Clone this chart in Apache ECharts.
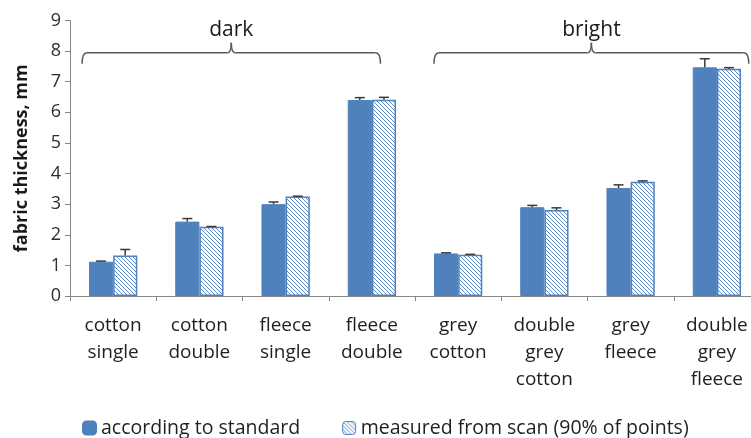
<!DOCTYPE html>
<html>
<head>
<meta charset="utf-8">
<script src="https://cdn.jsdelivr.net/npm/echarts@6/dist/echarts.min.js"></script>
<style>
html,body{margin:0;padding:0;background:#fff;}
#chart{width:751px;height:438px;}
</style>
</head>
<body>
<div id="chart"></div>
<script>
// ---- data ----
var categories = ['cotton\nsingle', 'cotton\ndouble', 'fleece\nsingle', 'fleece\ndouble',
                  'grey\ncotton', 'double\ngrey\ncotton', 'grey\nfleece', 'double\ngrey\nfleece'];
var standardValues = [1.12, 2.43, 3.00, 6.40, 1.39, 2.90, 3.53, 7.47];
var standardErrors = [0.02, 0.10, 0.07, 0.08, 0.02, 0.06, 0.10, 0.28];
var scanValues = [1.32, 2.26, 3.25, 6.41, 1.35, 2.81, 3.73, 7.42];
var scanErrors = [0.20, 0.01, 0.01, 0.08, 0.01, 0.07, 0.03, 0.04];
var seriesNames = ['according to standard', 'measured from scan (90% of points)'];
var yTicks = [0, 1, 2, 3, 4, 5, 6, 7, 8, 9];
// group brackets: label, start and end positions in category units, height in data units
var bracketLabels = ['dark', 'bright'];
var bracketStarts = [-0.36, 3.72];
var bracketEnds = [3.10, 7.37];
var bracketLevels = [7.95, 7.95];

var BLUE = '#4f81bd';
var FONT = '"Open Sans", sans-serif';

function makePattern() {
  var c = document.createElement('canvas');
  c.width = 4; c.height = 4;
  var ctx = c.getContext('2d');
  ctx.fillStyle = '#ffffff';
  ctx.fillRect(0, 0, 4, 4);
  ctx.strokeStyle = '#5f8cc6';
  ctx.lineWidth = 1;
  ctx.beginPath();
  ctx.moveTo(-1, -1); ctx.lineTo(5, 5);
  ctx.moveTo(-1, 3); ctx.lineTo(1, 5);
  ctx.moveTo(3, -1); ctx.lineTo(5, 1);
  ctx.stroke();
  return c;
}
var pattern = { image: makePattern(), repeat: 'repeat' };

var chart = echarts.init(document.getElementById('chart'), null, { renderer: 'canvas' });

var BAR_FRAC = 0.28; // each bar width as fraction of band (barCategoryGap 44%, barGap 0)

function errorRender(offsetSign, errs) {
  return function (params, api) {
    var idx = api.value(0);
    var val = api.value(1);
    var err = errs[idx];
    var band = api.size([1, 0])[0];
    var p0 = api.coord([idx, val]);
    var p1 = api.coord([idx, val + err]);
    var x = p0[0] + offsetSign * band * BAR_FRAC / 2;
    var half = 5;
    return {
      type: 'group',
      children: [
        { type: 'line', shape: { x1: x, y1: p0[1], x2: x, y2: p1[1] }, style: { stroke: '#3a3a3a', lineWidth: 1.5 } },
        { type: 'line', shape: { x1: x - half, y1: p1[1], x2: x + half, y2: p1[1] }, style: { stroke: '#3a3a3a', lineWidth: 1.5 } }
      ]
    };
  };
}

function bracketRender(params, api) {
  var i = params.dataIndex;
  var band = api.size([1, 0])[0];
  var c0 = api.coord([0, bracketLevels[i]]);
  var x1 = c0[0] + bracketStarts[i] * band;
  var x2 = c0[0] + bracketEnds[i] * band;
  var xm = (x1 + x2) / 2;
  var y0 = c0[1];
  var st = { stroke: '#5a5a5a', lineWidth: 1.5, fill: null };
  return {
    type: 'group',
    children: [
      { type: 'bezierCurve', shape: { x1: x1, y1: y0 + 11, x2: x1 + 5, y2: y0, cpx1: x1, cpy1: y0 }, style: st },
      { type: 'line', shape: { x1: x1 + 5, y1: y0, x2: xm - 4, y2: y0 }, style: st },
      { type: 'bezierCurve', shape: { x1: xm - 4, y1: y0, x2: xm, y2: y0 - 10, cpx1: xm, cpy1: y0 }, style: st },
      { type: 'bezierCurve', shape: { x1: xm, y1: y0 - 10, x2: xm + 4, y2: y0, cpx1: xm, cpy1: y0 }, style: st },
      { type: 'line', shape: { x1: xm + 4, y1: y0, x2: x2 - 5, y2: y0 }, style: st },
      { type: 'bezierCurve', shape: { x1: x2 - 5, y1: y0, x2: x2, y2: y0 + 11, cpx1: x2, cpy1: y0 }, style: st },
      { type: 'text', style: { x: xm, y: y0 - 23, text: bracketLabels[i], fill: '#1a1a1a',
        font: '21px "Open Sans", sans-serif', align: 'center', verticalAlign: 'middle' } }
    ]
  };
}

var option = {
  animation: false,
  backgroundColor: '#ffffff',
  textStyle: { fontFamily: FONT },
  grid: { left: 70, width: 690, top: 20.5, bottom: 142, containLabel: false, outerBoundsMode: 'none' },
  legend: {
    data: [
      { name: seriesNames[0], itemStyle: { color: BLUE } },
      { name: seriesNames[1], itemStyle: { color: pattern, borderColor: BLUE, borderWidth: 1 } }
    ],
    left: 77, top: 413,
    itemWidth: 13, itemHeight: 13, itemGap: 42,
    textStyle: { fontSize: 19.5, color: '#1f1f1f', fontFamily: FONT }
  },
  xAxis: {
    type: 'category',
    data: categories,
    boundaryGap: true,
    axisLine: { lineStyle: { color: '#868686', width: 1 } },
    axisTick: { show: true, length: 5, interval: 0, lineStyle: { color: '#868686' } },
    axisLabel: { interval: 0, margin: 16, fontSize: 19, lineHeight: 27, color: '#1f1f1f', fontFamily: FONT },
    splitLine: { show: false }
  },
  yAxis: {
    type: 'value',
    min: yTicks[0], max: yTicks[yTicks.length - 1], interval: 1,
    name: 'fabric thickness, mm',
    nameLocation: 'middle', nameGap: 39, nameRotate: 90,
    nameTextStyle: { fontSize: 18, fontWeight: 'bold', color: '#1a1a1a', fontFamily: FONT },
    axisLine: { show: true, lineStyle: { color: '#868686', width: 1 } },
    axisTick: { show: true, length: 5, lineStyle: { color: '#868686' } },
    axisLabel: { fontSize: 18, margin: 9, color: '#2e2e2e', fontFamily: FONT },
    splitLine: { show: false }
  },
  series: [
    {
      name: seriesNames[0], type: 'bar', data: standardValues,
      barGap: '0%', barCategoryGap: '44%',
      itemStyle: { color: BLUE, borderColor: BLUE, borderWidth: 1 }
    },
    {
      name: seriesNames[1], type: 'bar', data: scanValues,
      barGap: '0%', barCategoryGap: '44%',
      itemStyle: { color: pattern, borderColor: BLUE, borderWidth: 1.5 }
    },
    {
      type: 'custom', name: 'err1', silent: true, z: 5,
      renderItem: errorRender(-1, standardErrors),
      data: standardValues.map(function (v, i) { return [i, v]; })
    },
    {
      type: 'custom', name: 'err2', silent: true, z: 5,
      renderItem: errorRender(1, scanErrors),
      data: scanValues.map(function (v, i) { return [i, v]; })
    },
    {
      type: 'custom', name: 'brackets', silent: true, z: 6, clip: false,
      renderItem: bracketRender,
      data: bracketLabels.map(function (l, i) { return [i, bracketLevels[i]]; })
    }
  ]
};
chart.setOption(option);
</script>
</body>
</html>
